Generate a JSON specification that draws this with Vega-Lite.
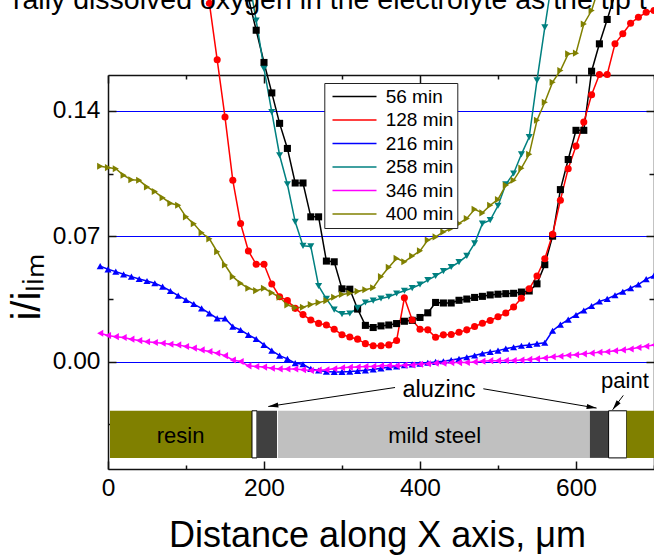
{
"$schema":"https://vega.github.io/schema/vega-lite/v6.json",
"width":546,"height":394,
"autosize":{"type":"none"},
"padding":{"left":108,"top":75,"right":0,"bottom":88},
"background":"white",
"config":{"view":{"stroke":null},"font":"Liberation Sans",
 "axis":{"domainColor":"#111","domainWidth":1.5,"tickColor":"#111","tickWidth":1.5,"labelFont":"Liberation Sans","labelFontSize":24.5,"labelColor":"#000","titleFont":"Liberation Sans","titleFontWeight":"normal","titleColor":"#000","grid":false,"labelFlush":false,"labelOverlap":false}},
"title":{"text":"rally dissolved oxygen in the electrolyte as the tip t","anchor":"start","frame":"group","fontSize":28.5,"fontWeight":"normal","font":"Liberation Sans","color":"#000","dx":-95,"dy":82,"offset":0,"baseline":"alphabetic"},
"datasets":{
"bars":[
{"material":"resin","start":2.5,"end":184.6},
{"material":"paint","start":184.6,"end":191},
{"material":"aluzinc","start":191,"end":216.7},
{"material":"mild steel","start":218,"end":617.8},
{"material":"aluzinc","start":617.8,"end":641.8},
{"material":"paint","start":641.8,"end":665},
{"material":"resin","start":665,"end":720}],
"notes":[
{"label":"resin","x":93,"y":-0.0416,"size":"s"},
{"label":"mild steel","x":418.7,"y":-0.0416,"size":"s"},
{"label":"aluzinc","x":424.4,"y":-0.016,"size":"l"},
{"label":"paint","x":662.8,"y":-0.011,"size":"s"}],
"arrows":[
{"x0":368,"y0":-0.0145,"x1":205.5,"y1":-0.0251},
{"x0":481.2,"y0":-0.0152,"x1":626.4,"y1":-0.026},
{"x0":660.6,"y0":-0.0189,"x1":647,"y1":-0.0269}],
"curves":[
{"series":"56 min","x":180,"y":0.203},{"series":"56 min","x":190,"y":0.185},{"series":"56 min","x":200,"y":0.167},{"series":"56 min","x":210,"y":0.150},{"series":"56 min","x":220,"y":0.133},{"series":"56 min","x":230,"y":0.119},{"series":"56 min","x":240,"y":0.0997},{"series":"56 min","x":250,"y":0.0997},{"series":"56 min","x":260,"y":0.0808},{"series":"56 min","x":270,"y":0.0808},{"series":"56 min","x":280,"y":0.0561},{"series":"56 min","x":290,"y":0.0557},{"series":"56 min","x":300,"y":0.0406},{"series":"56 min","x":310,"y":0.0404},{"series":"56 min","x":320,"y":0.0293},{"series":"56 min","x":330,"y":0.0202},{"series":"56 min","x":340,"y":0.0190},{"series":"56 min","x":350,"y":0.0199},{"series":"56 min","x":360,"y":0.0204},{"series":"56 min","x":370,"y":0.0212},{"series":"56 min","x":380,"y":0.0225},{"series":"56 min","x":390,"y":0.0230},{"series":"56 min","x":400,"y":0.0246},{"series":"56 min","x":410,"y":0.0272},{"series":"56 min","x":420,"y":0.0330},{"series":"56 min","x":430,"y":0.0327},{"series":"56 min","x":440,"y":0.0327},{"series":"56 min","x":450,"y":0.0342},{"series":"56 min","x":460,"y":0.0349},{"series":"56 min","x":470,"y":0.0358},{"series":"56 min","x":480,"y":0.0364},{"series":"56 min","x":490,"y":0.0372},{"series":"56 min","x":500,"y":0.0376},{"series":"56 min","x":510,"y":0.0379},{"series":"56 min","x":520,"y":0.0381},{"series":"56 min","x":530,"y":0.0388},{"series":"56 min","x":540,"y":0.0394},{"series":"56 min","x":550,"y":0.0434},{"series":"56 min","x":560,"y":0.0541},{"series":"56 min","x":570,"y":0.0700},{"series":"56 min","x":580,"y":0.0960},{"series":"56 min","x":590,"y":0.1128},{"series":"56 min","x":600,"y":0.1291},{"series":"56 min","x":610,"y":0.1291},{"series":"56 min","x":620,"y":0.1621},{"series":"56 min","x":630,"y":0.1774},{"series":"56 min","x":640,"y":0.1910},{"series":"56 min","x":650,"y":0.205},
{"series":"128 min","x":120,"y":0.225},{"series":"128 min","x":130,"y":0.200},{"series":"128 min","x":140,"y":0.1685},{"series":"128 min","x":150,"y":0.1365},{"series":"128 min","x":160,"y":0.1012},{"series":"128 min","x":170,"y":0.0771},{"series":"128 min","x":180,"y":0.0617},{"series":"128 min","x":190,"y":0.0543},{"series":"128 min","x":200,"y":0.0543},{"series":"128 min","x":210,"y":0.0433},{"series":"128 min","x":220,"y":0.0362},{"series":"128 min","x":230,"y":0.0340},{"series":"128 min","x":240,"y":0.0297},{"series":"128 min","x":250,"y":0.0262},{"series":"128 min","x":260,"y":0.0232},{"series":"128 min","x":270,"y":0.0213},{"series":"128 min","x":280,"y":0.0204},{"series":"128 min","x":290,"y":0.0180},{"series":"128 min","x":300,"y":0.0150},{"series":"128 min","x":310,"y":0.0137},{"series":"128 min","x":320,"y":0.0125},{"series":"128 min","x":330,"y":0.0100},{"series":"128 min","x":340,"y":0.0088},{"series":"128 min","x":350,"y":0.0088},{"series":"128 min","x":360,"y":0.0093},{"series":"128 min","x":370,"y":0.0118},{"series":"128 min","x":380,"y":0.0356},{"series":"128 min","x":390,"y":0.0232},{"series":"128 min","x":400,"y":0.0180},{"series":"128 min","x":410,"y":0.0177},{"series":"128 min","x":420,"y":0.0136},{"series":"128 min","x":430,"y":0.0149},{"series":"128 min","x":440,"y":0.0151},{"series":"128 min","x":450,"y":0.0164},{"series":"128 min","x":460,"y":0.0177},{"series":"128 min","x":470,"y":0.0196},{"series":"128 min","x":480,"y":0.0214},{"series":"128 min","x":490,"y":0.0229},{"series":"128 min","x":500,"y":0.0250},{"series":"128 min","x":510,"y":0.0271},{"series":"128 min","x":520,"y":0.0305},{"series":"128 min","x":530,"y":0.0353},{"series":"128 min","x":540,"y":0.0406},{"series":"128 min","x":550,"y":0.0478},{"series":"128 min","x":560,"y":0.0574},{"series":"128 min","x":570,"y":0.0711},{"series":"128 min","x":580,"y":0.0901},{"series":"128 min","x":590,"y":0.1077},{"series":"128 min","x":600,"y":0.1203},{"series":"128 min","x":610,"y":0.1337},{"series":"128 min","x":620,"y":0.1490},{"series":"128 min","x":630,"y":0.1603},{"series":"128 min","x":640,"y":0.1603},{"series":"128 min","x":650,"y":0.1774},{"series":"128 min","x":660,"y":0.1830},{"series":"128 min","x":670,"y":0.1889},{"series":"128 min","x":680,"y":0.1922},{"series":"128 min","x":690,"y":0.1950},{"series":"128 min","x":700,"y":0.1960},{"series":"128 min","x":710,"y":0.1970},
{"series":"216 min","x":-10,"y":0.0533},{"series":"216 min","x":0,"y":0.0515},{"series":"216 min","x":10,"y":0.0502},{"series":"216 min","x":20,"y":0.0487},{"series":"216 min","x":30,"y":0.0474},{"series":"216 min","x":40,"y":0.0461},{"series":"216 min","x":50,"y":0.0450},{"series":"216 min","x":60,"y":0.0437},{"series":"216 min","x":70,"y":0.0418},{"series":"216 min","x":80,"y":0.0394},{"series":"216 min","x":90,"y":0.0368},{"series":"216 min","x":100,"y":0.0344},{"series":"216 min","x":110,"y":0.0321},{"series":"216 min","x":120,"y":0.0297},{"series":"216 min","x":130,"y":0.0269},{"series":"216 min","x":140,"y":0.0241},{"series":"216 min","x":150,"y":0.0241},{"series":"216 min","x":160,"y":0.0195},{"series":"216 min","x":170,"y":0.0176},{"series":"216 min","x":180,"y":0.0149},{"series":"216 min","x":190,"y":0.0126},{"series":"216 min","x":200,"y":0.0093},{"series":"216 min","x":210,"y":0.0061},{"series":"216 min","x":220,"y":0.0033},{"series":"216 min","x":230,"y":0.0015},{"series":"216 min","x":240,"y":-0.0009},{"series":"216 min","x":250,"y":-0.0015},{"series":"216 min","x":260,"y":-0.0041},{"series":"216 min","x":270,"y":-0.0050},{"series":"216 min","x":280,"y":-0.0056},{"series":"216 min","x":290,"y":-0.0058},{"series":"216 min","x":300,"y":-0.0058},{"series":"216 min","x":310,"y":-0.0056},{"series":"216 min","x":320,"y":-0.0053},{"series":"216 min","x":330,"y":-0.0049},{"series":"216 min","x":340,"y":-0.0044},{"series":"216 min","x":350,"y":-0.0038},{"series":"216 min","x":360,"y":-0.0032},{"series":"216 min","x":370,"y":-0.0027},{"series":"216 min","x":380,"y":-0.0021},{"series":"216 min","x":390,"y":-0.0016},{"series":"216 min","x":400,"y":-0.0012},{"series":"216 min","x":410,"y":-0.0007},{"series":"216 min","x":420,"y":-0.0002},{"series":"216 min","x":430,"y":0.0002},{"series":"216 min","x":440,"y":0.0008},{"series":"216 min","x":450,"y":0.0015},{"series":"216 min","x":460,"y":0.0024},{"series":"216 min","x":470,"y":0.0034},{"series":"216 min","x":480,"y":0.0045},{"series":"216 min","x":490,"y":0.0054},{"series":"216 min","x":500,"y":0.0061},{"series":"216 min","x":510,"y":0.0072},{"series":"216 min","x":520,"y":0.0080},{"series":"216 min","x":530,"y":0.0088},{"series":"216 min","x":540,"y":0.0093},{"series":"216 min","x":550,"y":0.0100},{"series":"216 min","x":560,"y":0.0105},{"series":"216 min","x":570,"y":0.0172},{"series":"216 min","x":580,"y":0.0206},{"series":"216 min","x":590,"y":0.0234},{"series":"216 min","x":600,"y":0.0260},{"series":"216 min","x":610,"y":0.0285},{"series":"216 min","x":620,"y":0.0310},{"series":"216 min","x":630,"y":0.0335},{"series":"216 min","x":640,"y":0.0350},{"series":"216 min","x":650,"y":0.0370},{"series":"216 min","x":660,"y":0.0390},{"series":"216 min","x":670,"y":0.0410},{"series":"216 min","x":680,"y":0.0430},{"series":"216 min","x":690,"y":0.0460},{"series":"216 min","x":700,"y":0.0480},{"series":"216 min","x":710,"y":0.0500},
{"series":"258 min","x":180,"y":0.215},{"series":"258 min","x":190,"y":0.1904},{"series":"258 min","x":200,"y":0.1635},{"series":"258 min","x":210,"y":0.1393},{"series":"258 min","x":220,"y":0.1152},{"series":"258 min","x":230,"y":0.0990},{"series":"258 min","x":240,"y":0.0780},{"series":"258 min","x":250,"y":0.0646},{"series":"258 min","x":260,"y":0.0643},{"series":"258 min","x":270,"y":0.0422},{"series":"258 min","x":280,"y":0.0350},{"series":"258 min","x":290,"y":0.0290},{"series":"258 min","x":300,"y":0.0265},{"series":"258 min","x":310,"y":0.0268},{"series":"258 min","x":320,"y":0.0300},{"series":"258 min","x":330,"y":0.0330},{"series":"258 min","x":340,"y":0.0340},{"series":"258 min","x":350,"y":0.0352},{"series":"258 min","x":360,"y":0.0362},{"series":"258 min","x":370,"y":0.0380},{"series":"258 min","x":380,"y":0.0395},{"series":"258 min","x":390,"y":0.0410},{"series":"258 min","x":400,"y":0.0430},{"series":"258 min","x":410,"y":0.0455},{"series":"258 min","x":420,"y":0.0478},{"series":"258 min","x":430,"y":0.0505},{"series":"258 min","x":440,"y":0.0528},{"series":"258 min","x":450,"y":0.0555},{"series":"258 min","x":460,"y":0.0590},{"series":"258 min","x":470,"y":0.0660},{"series":"258 min","x":480,"y":0.0770},{"series":"258 min","x":490,"y":0.0790},{"series":"258 min","x":500,"y":0.0870},{"series":"258 min","x":510,"y":0.0990},{"series":"258 min","x":520,"y":0.1050},{"series":"258 min","x":530,"y":0.1157},{"series":"258 min","x":540,"y":0.1253},{"series":"258 min","x":550,"y":0.1570},{"series":"258 min","x":560,"y":0.1866},{"series":"258 min","x":570,"y":0.215},
{"series":"346 min","x":-10,"y":0.0158},{"series":"346 min","x":0,"y":0.0145},{"series":"346 min","x":10,"y":0.0139},{"series":"346 min","x":20,"y":0.0134},{"series":"346 min","x":30,"y":0.0125},{"series":"346 min","x":40,"y":0.0117},{"series":"346 min","x":50,"y":0.0111},{"series":"346 min","x":60,"y":0.0106},{"series":"346 min","x":70,"y":0.0102},{"series":"346 min","x":80,"y":0.0097},{"series":"346 min","x":90,"y":0.0093},{"series":"346 min","x":100,"y":0.0084},{"series":"346 min","x":110,"y":0.0075},{"series":"346 min","x":120,"y":0.0065},{"series":"346 min","x":130,"y":0.0056},{"series":"346 min","x":140,"y":0.0047},{"series":"346 min","x":150,"y":0.0033},{"series":"346 min","x":160,"y":0.0009},{"series":"346 min","x":170,"y":0.0000},{"series":"346 min","x":180,"y":-0.0024},{"series":"346 min","x":190,"y":-0.0028},{"series":"346 min","x":200,"y":-0.0031},{"series":"346 min","x":210,"y":-0.0037},{"series":"346 min","x":220,"y":-0.0041},{"series":"346 min","x":230,"y":-0.0042},{"series":"346 min","x":240,"y":-0.0042},{"series":"346 min","x":250,"y":-0.0046},{"series":"346 min","x":260,"y":-0.0050},{"series":"346 min","x":270,"y":-0.0048},{"series":"346 min","x":280,"y":-0.0046},{"series":"346 min","x":290,"y":-0.0040},{"series":"346 min","x":300,"y":-0.0035},{"series":"346 min","x":310,"y":-0.0032},{"series":"346 min","x":320,"y":-0.0030},{"series":"346 min","x":330,"y":-0.0028},{"series":"346 min","x":340,"y":-0.0027},{"series":"346 min","x":350,"y":-0.0024},{"series":"346 min","x":360,"y":-0.0022},{"series":"346 min","x":370,"y":-0.0023},{"series":"346 min","x":380,"y":-0.0021},{"series":"346 min","x":390,"y":-0.0019},{"series":"346 min","x":400,"y":-0.0015},{"series":"346 min","x":410,"y":-0.0012},{"series":"346 min","x":420,"y":-0.0009},{"series":"346 min","x":430,"y":-0.0009},{"series":"346 min","x":440,"y":-0.0006},{"series":"346 min","x":450,"y":-0.0006},{"series":"346 min","x":460,"y":-0.0005},{"series":"346 min","x":470,"y":-0.0002},{"series":"346 min","x":480,"y":0.0002},{"series":"346 min","x":490,"y":0.0005},{"series":"346 min","x":500,"y":0.0005},{"series":"346 min","x":510,"y":0.0006},{"series":"346 min","x":520,"y":0.0006},{"series":"346 min","x":530,"y":0.0008},{"series":"346 min","x":540,"y":0.0012},{"series":"346 min","x":550,"y":0.0015},{"series":"346 min","x":560,"y":0.0020},{"series":"346 min","x":570,"y":0.0027},{"series":"346 min","x":580,"y":0.0030},{"series":"346 min","x":590,"y":0.0035},{"series":"346 min","x":600,"y":0.0038},{"series":"346 min","x":610,"y":0.0043},{"series":"346 min","x":620,"y":0.0047},{"series":"346 min","x":630,"y":0.0052},{"series":"346 min","x":640,"y":0.0055},{"series":"346 min","x":650,"y":0.0060},{"series":"346 min","x":660,"y":0.0065},{"series":"346 min","x":670,"y":0.0070},{"series":"346 min","x":680,"y":0.0078},{"series":"346 min","x":690,"y":0.0085},{"series":"346 min","x":700,"y":0.0092},{"series":"346 min","x":710,"y":0.0097},
{"series":"400 min","x":-10,"y":0.1090},{"series":"400 min","x":0,"y":0.1083},{"series":"400 min","x":10,"y":0.1077},{"series":"400 min","x":20,"y":0.1040},{"series":"400 min","x":30,"y":0.1015},{"series":"400 min","x":40,"y":0.1012},{"series":"400 min","x":50,"y":0.0975},{"series":"400 min","x":60,"y":0.0949},{"series":"400 min","x":70,"y":0.0915},{"series":"400 min","x":80,"y":0.0884},{"series":"400 min","x":90,"y":0.0873},{"series":"400 min","x":100,"y":0.0808},{"series":"400 min","x":110,"y":0.0769},{"series":"400 min","x":120,"y":0.0719},{"series":"400 min","x":130,"y":0.0685},{"series":"400 min","x":140,"y":0.0613},{"series":"400 min","x":150,"y":0.0539},{"series":"400 min","x":160,"y":0.0474},{"series":"400 min","x":170,"y":0.0437},{"series":"400 min","x":180,"y":0.0409},{"series":"400 min","x":190,"y":0.0396},{"series":"400 min","x":200,"y":0.0409},{"series":"400 min","x":210,"y":0.0384},{"series":"400 min","x":220,"y":0.0359},{"series":"400 min","x":230,"y":0.0316},{"series":"400 min","x":240,"y":0.0301},{"series":"400 min","x":250,"y":0.0303},{"series":"400 min","x":260,"y":0.0318},{"series":"400 min","x":270,"y":0.0329},{"series":"400 min","x":280,"y":0.0340},{"series":"400 min","x":290,"y":0.0359},{"series":"400 min","x":300,"y":0.0375},{"series":"400 min","x":310,"y":0.0381},{"series":"400 min","x":320,"y":0.0392},{"series":"400 min","x":330,"y":0.0401},{"series":"400 min","x":340,"y":0.0412},{"series":"400 min","x":350,"y":0.0474},{"series":"400 min","x":360,"y":0.0526},{"series":"400 min","x":370,"y":0.0576},{"series":"400 min","x":380,"y":0.0557},{"series":"400 min","x":390,"y":0.0589},{"series":"400 min","x":400,"y":0.0618},{"series":"400 min","x":410,"y":0.0678},{"series":"400 min","x":420,"y":0.0696},{"series":"400 min","x":430,"y":0.0724},{"series":"400 min","x":440,"y":0.0743},{"series":"400 min","x":450,"y":0.0771},{"series":"400 min","x":460,"y":0.0799},{"series":"400 min","x":470,"y":0.0850},{"series":"400 min","x":480,"y":0.0830},{"series":"400 min","x":490,"y":0.0873},{"series":"400 min","x":500,"y":0.0905},{"series":"400 min","x":510,"y":0.0984},{"series":"400 min","x":520,"y":0.1012},{"series":"400 min","x":530,"y":0.1080},{"series":"400 min","x":540,"y":0.1157},{"series":"400 min","x":550,"y":0.1347},{"series":"400 min","x":560,"y":0.1448},{"series":"400 min","x":570,"y":0.1560},{"series":"400 min","x":580,"y":0.1625},{"series":"400 min","x":590,"y":0.1718},{"series":"400 min","x":600,"y":0.1722},{"series":"400 min","x":610,"y":0.1885},{"series":"400 min","x":620,"y":0.1960},{"series":"400 min","x":630,"y":0.2100}
]},
"resolve":{"axis":{"x":"independent","y":"independent"},"scale":{"x":"shared","y":"shared","color":"independent"}},
"layer":[
{"data":{"name":"bars"},
 "mark":{"type":"rect","strokeWidth":1,"clip":false},
 "encoding":{
  "x":{"field":"start","type":"quantitative","scale":{"domain":[0,700],"nice":false,"zero":false},"axis":null},
  "x2":{"field":"end"},
  "y":{"datum":-0.0275,"type":"quantitative","scale":{"domain":[-0.06,0.16],"nice":false,"zero":false},"axis":null},
  "y2":{"datum":-0.0538},
  "fill":{"field":"material","type":"nominal","scale":{"domain":["resin","aluzinc","mild steel","paint"],"range":["#808000","#404040","#c0c0c0","#ffffff"]},"legend":null},
  "stroke":{"condition":{"test":"datum.material === 'paint'","value":"#000000"},"value":null}
 }},
{"data":{"name":"curves"},
 "mark":{"type":"line","strokeWidth":1.5,"clip":false},
 "encoding":{
  "x":{"field":"x","type":"quantitative","scale":{"domain":[0,700],"nice":false,"zero":false},
       "axis":{"orient":"bottom","values":[0,200,400,600],"tickSize":-8,"labelPadding":15,"title":"Distance along X axis, μm","titleFontSize":36,"titleX":269,"titleY":77,"titleBaseline":"alphabetic","titleAnchor":"middle","titleAlign":"center"}},
  "y":{"field":"y","type":"quantitative","scale":{"domain":[-0.06,0.16],"nice":false,"zero":false},
       "axis":{"orient":"left","values":[0,0.07,0.14],"format":".2f","tickSize":-8,"labelPadding":16,"grid":true,"gridColor":"#0000ff","gridWidth":1,"title":"i/iₗᵢₘ","titleFontSize":40,"titleAngle":-90,"titleX":-69,"titleY":212,"titleAlign":"center","titleBaseline":"alphabetic"}},
  "color":{"field":"series","type":"nominal","scale":{"domain":["56 min","128 min","216 min","258 min","346 min","400 min"],"range":["#000000","#ff0000","#0000ff","#008080","#ff00ff","#808000"]},
     "legend":{"orient":"none","legendX":216.3,"legendY":8,"title":null,"symbolType":"M-1.06,0H7.74","symbolSize":100,"symbolStrokeWidth":1.5,"labelOffset":38.4,"labelFontSize":19,"labelFont":"Liberation Sans","labelColor":"#000","fillColor":"#ffffff","strokeColor":"#222","padding":4,"rowPadding":3.5,"labelLimit":300}},
  "order":{"field":"x","type":"quantitative"}
 }},
{"data":{"name":"curves"},
 "mark":{"type":"point","filled":true,"size":50,"opacity":1,"clip":false},
 "encoding":{
  "x":{"field":"x","type":"quantitative","scale":{"domain":[0,700],"nice":false,"zero":false},
       "axis":{"orient":"top","values":[0,200,400,600],"tickSize":-8,"labels":false,"title":null}},
  "y":{"field":"y","type":"quantitative","scale":{"domain":[-0.06,0.16],"nice":false,"zero":false},
       "axis":{"orient":"right","values":[0,0.07,0.14],"tickSize":-8,"labels":false,"title":null}},
  "color":{"field":"series","type":"nominal","scale":{"domain":["56 min","128 min","216 min","258 min","346 min","400 min","none"],"range":["#000000","#ff0000","#0000ff","#008080","#ff00ff","#808000","#999999"]},"legend":null},
  "shape":{"field":"series","type":"nominal","scale":{"domain":["56 min","128 min","216 min","258 min","346 min","400 min","none"],"range":["square","circle","triangle-up","triangle-down","triangle-left","triangle-right","circle"]},"legend":null}
 }},
{"data":{"name":"notes"},
 "mark":{"type":"text","align":"center","baseline":"middle","font":"Liberation Sans","color":"#000","clip":false},
 "encoding":{
  "x":{"field":"x","type":"quantitative","scale":{"domain":[0,700],"nice":false,"zero":false},
       "axis":{"orient":"bottom","values":[100,300,500,700],"tickSize":-4,"labels":false,"domain":false,"title":null}},
  "y":{"field":"y","type":"quantitative","scale":{"domain":[-0.06,0.16],"nice":false,"zero":false},
       "axis":{"orient":"left","values":[-0.035,0.035,0.105],"tickSize":-5,"labels":false,"domain":false,"title":null}},
  "text":{"field":"label"},
  "size":{"field":"size","type":"nominal","scale":{"domain":["s","l"],"range":[22,23.5]},"legend":null}
 }},
{"data":{"name":"arrows"},
 "mark":{"type":"rule","color":"#000","strokeWidth":1,"clip":false},
 "encoding":{
  "x":{"field":"x0","type":"quantitative","scale":{"domain":[0,700],"nice":false,"zero":false},
       "axis":{"orient":"top","values":[100,300,500,700],"tickSize":-4,"labels":false,"domain":false,"title":null}},
  "y":{"field":"y0","type":"quantitative","scale":{"domain":[-0.06,0.16],"nice":false,"zero":false},
       "axis":{"orient":"right","values":[-0.035,0.035,0.105],"tickSize":-5,"labels":false,"domain":false,"title":null}},
  "x2":{"field":"x1"},
  "y2":{"field":"y1"}
 }},
{"data":{"name":"arrows"},
 "mark":{"type":"point","filled":true,"color":"#000","size":100,"opacity":1,"clip":false,"shape":"M0,0L-2,-0.5L-2,0.5Z",
   "angle":{"expr":"atan2(scale('y', datum.y1) - scale('y', datum.y0), scale('x', datum.x1) - scale('x', datum.x0)) * 180 / PI"}},
 "encoding":{
  "x":{"field":"x1","type":"quantitative","scale":{"domain":[0,700],"nice":false,"zero":false},"axis":null},
  "y":{"field":"y1","type":"quantitative","scale":{"domain":[-0.06,0.16],"nice":false,"zero":false},"axis":null}
 }}
]
}
